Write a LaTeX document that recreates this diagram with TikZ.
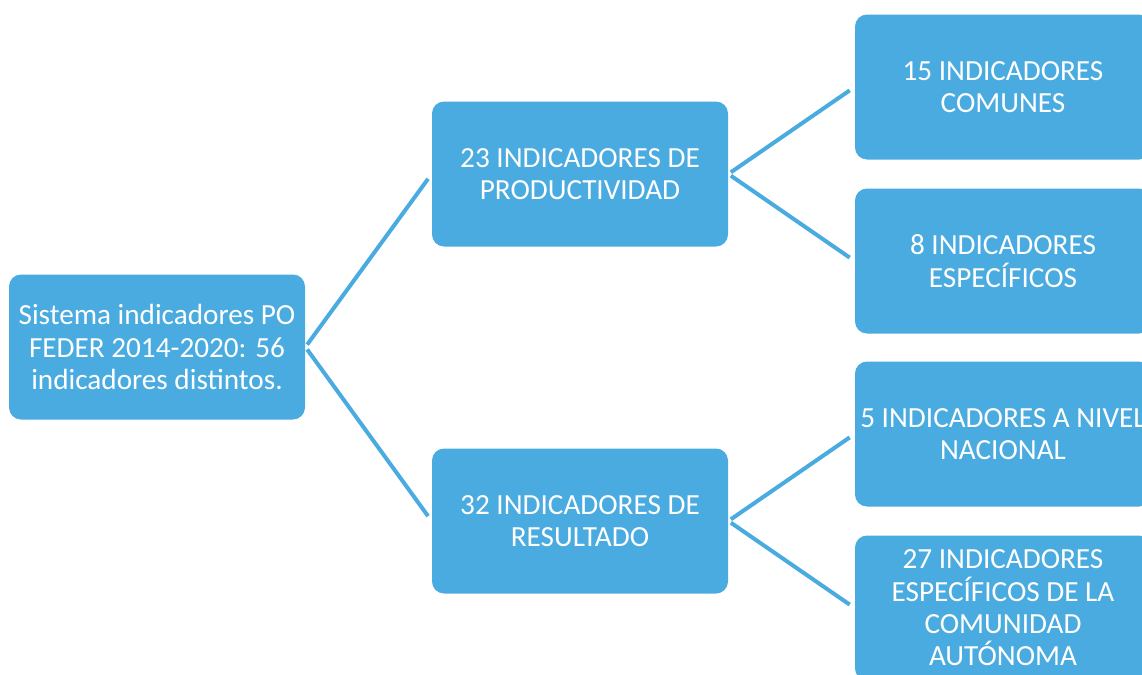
\documentclass[tikz,border=0pt]{standalone}
\usepackage{fontspec}
\setmainfont{Carlito}
\usetikzlibrary{positioning}
\definecolor{box-blue}{RGB}{74,171,224}

\begin{document}
\begin{tikzpicture}[x=0.5pt, y=-0.5pt,
box/.style={rectangle, rounded corners=6pt, fill=box-blue, text=white, minimum width=148pt, minimum height=72.5pt, inner sep=0pt, align=center, font=\fontsize{14.6}{16.2}\selectfont},
link/.style={draw=box-blue, line width=2pt, shorten <=1.5pt, shorten >=3pt}]
\useasboundingbox (0,0) rectangle (1142,675);

% root
\node [box](sistema) at (157,347) {Sistema indicadores PO\\FEDER 2014-2020: 56\\indicadores distintos.};

% middle level
\node [box](prod) at (580,174) {23 INDICADORES DE\\PRODUCTIVIDAD};
\node [box](res) at (580,521) {32 INDICADORES DE\\RESULTADO};

% right level
\node [box](comunes) at (1003,87) {15 INDICADORES\\COMUNES};
\node [box](especificos) at (1003,261) {8 INDICADORES\\ESPECÍFICOS};
\node [box](nacional) at (1003,434) {5 INDICADORES A NIVEL\\NACIONAL};
\node [box](autonoma) at (1003,608) {27 INDICADORES\\ESPECÍFICOS DE LA\\COMUNIDAD\\AUTÓNOMA};

% lines
\draw [link] (sistema.east) -- (prod.west);
\draw [link] (sistema.east) -- (res.west);
\draw [link] (prod.east) -- (comunes.west);
\draw [link] (prod.east) -- (especificos.west);
\draw [link] (res.east) -- (nacional.west);
\draw [link] (res.east) -- (autonoma.west);

\end{tikzpicture}
\end{document}
